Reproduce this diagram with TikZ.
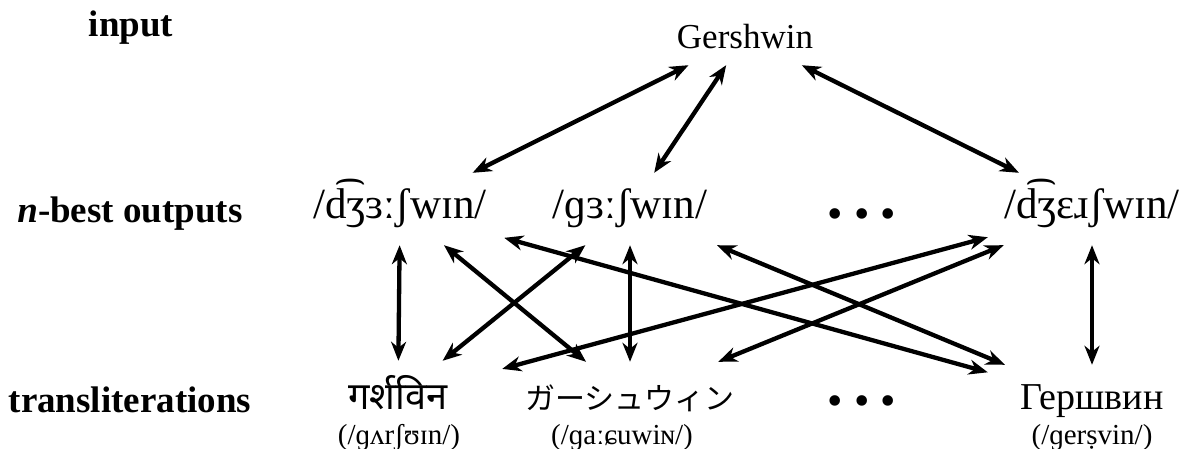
\documentclass[tikz,border=0pt]{standalone}
\usepackage{fontspec}
\setmainfont{Liberation Serif}
\newfontfamily\devfont[Script=Devanagari]{Noto Sans}
\newfontfamily\jpfont{Noto Sans CJK JP}
\usetikzlibrary{arrows.meta}
\begin{document}
\begin{tikzpicture}[x=1pt,y=-1pt,
  conn/.style={{Stealth[length=19pt,width=15pt,inset=6pt]}-{Stealth[length=19pt,width=15pt,inset=6pt]}, line width=4.3pt},
  rowlabel/.style={font=\fontsize{37}{40}\selectfont\bfseries, inner sep=0pt},
  src/.style={font=\fontsize{35}{38}\selectfont, minimum width=160pt, minimum height=56pt, inner sep=0pt},
  box/.style={minimum width=208pt, minimum height=72pt, inner sep=0pt},
  ipa/.style={box, font=\fontsize{43}{46}\selectfont, text height=30pt, text depth=10pt},
  dev/.style={box, font=\devfont\fontsize{38}{42}\selectfont, text height=28pt, text depth=4pt},
  jp/.style={box, font=\jpfont\fontsize{30}{34}\selectfont},
  cyr/.style={box, font=\fontsize{38}{42}\selectfont},
  sub/.style={font=\fontsize{29}{32}\selectfont, inner sep=0pt},
  dots/.style={font=\fontsize{44}{48}\selectfont, inner sep=0pt}
]
\useasboundingbox (0,0) rectangle (1187,449);
\node[rowlabel] (lin) at (131,28) {input};
\node[rowlabel] (lnb) at (130,214) {\textit{n}-best outputs};
\node[rowlabel] (ltr) at (130,400) {transliterations};

\node[src] (g) at (745,37) {Gershwin};
\node[ipa] (o1) at (400,209) {/d͡ʒɜːʃwɪn/};
\node[ipa] (o2) at (630,209) {/ɡɜːʃwɪn/};
\node[dots] (d1) at (862,219) {•\kern11pt•\kern11pt•};
\node[ipa] (o3) at (1092,209) {/d͡ʒɛɹʃwɪn/};

\node[dev] (t1) at (398,397) {गर्शविन};
\node[jp] (t2) at (630,398) {ガーシュウィン};
\node[dots] (d2) at (862,406) {•\kern11pt•\kern11pt•};
\node[cyr] (t3) at (1092,401) {Гершвин};

\node[sub] (s1) at (399,438) {(/ɡʌrʃʊɪn/)};
\node[sub] (s2) at (622,438) {(/ɡaːɕuwiɴ/)};
\node[sub] (s3) at (1092,438) {(/ɡerṣvin/)};

\draw[conn] (g) -- (o1);
\draw[conn] (g) -- (o2);
\draw[conn] (g) -- (o3);
\draw[conn] (o1) -- (t1);
\draw[conn] (o1) -- (t2);
\draw[conn] (o1) -- (t3);
\draw[conn] (o2) -- (t1);
\draw[conn] (o2) -- (t2);
\draw[conn] (o2) -- (t3);
\draw[conn] (o3) -- (t1);
\draw[conn] (o3) -- (t2);
\draw[conn] (o3) -- (t3);
\end{tikzpicture}
\end{document}
